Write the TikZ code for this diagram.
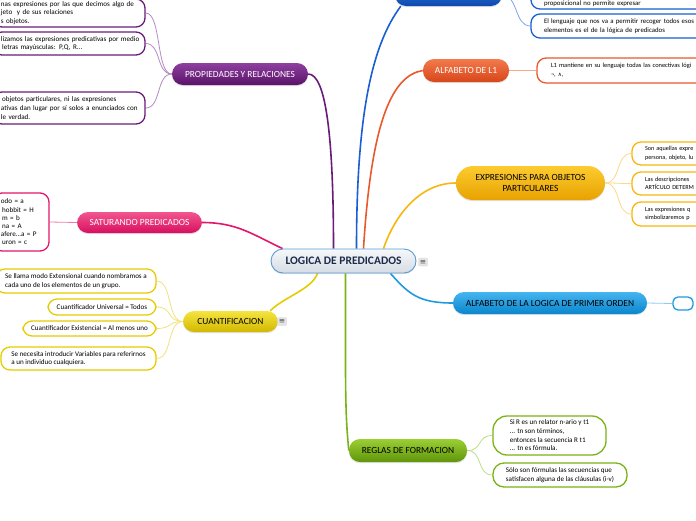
\documentclass[tikz,border=0pt]{standalone}
\usepackage{fontspec}
\setmainfont{Carlito}
\newfontfamily\symf{DejaVu Sans}
\usetikzlibrary{shadows,backgrounds}
\definecolor{cPur}{HTML}{6A1B7A}
\definecolor{cPurT}{HTML}{8E3FA0}
\definecolor{cPurB}{HTML}{5A1368}
\definecolor{cPurL}{HTML}{B58BC2}
\definecolor{cPnk}{HTML}{E4166C}
\definecolor{cPnkT}{HTML}{F2568F}
\definecolor{cPnkB}{HTML}{D80F60}
\definecolor{cPnkL}{HTML}{F07AA8}
\definecolor{cYel}{HTML}{E6CB00}
\definecolor{cYelT}{HTML}{F5E440}
\definecolor{cYelB}{HTML}{D2B800}
\definecolor{cYelL}{HTML}{F2E27A}
\definecolor{cBlu}{HTML}{1A5FD2}
\definecolor{cBluT}{HTML}{3478E0}
\definecolor{cBluB}{HTML}{0C49AE}
\definecolor{cBluL}{HTML}{7FA6E6}
\definecolor{cOrg}{HTML}{E9592B}
\definecolor{cOrgT}{HTML}{F27A4C}
\definecolor{cOrgB}{HTML}{D8461A}
\definecolor{cOrgL}{HTML}{F5A88A}
\definecolor{cGld}{HTML}{F6B80E}
\definecolor{cGldT}{HTML}{FCCB30}
\definecolor{cGldB}{HTML}{E8A200}
\definecolor{cGldL}{HTML}{FAD98A}
\definecolor{cSky}{HTML}{1E9BE0}
\definecolor{cSkyT}{HTML}{45B5F0}
\definecolor{cSkyB}{HTML}{0A85CC}
\definecolor{cSkyL}{HTML}{8CCCF2}
\definecolor{cGrn}{HTML}{7AB317}
\definecolor{cGrnT}{HTML}{9BCF34}
\definecolor{cGrnB}{HTML}{5F960A}
\definecolor{cGrnL}{HTML}{BEDD8A}
\definecolor{cCenT}{HTML}{F6F8FA}
\definecolor{cCenB}{HTML}{D5DCE4}
\definecolor{cCenD}{HTML}{5B9BD5}
\definecolor{cCenTx}{HTML}{1C2B4A}
\begin{document}
\begin{tikzpicture}[x=1pt,y=-1pt,
  br/.style={rounded corners=11pt, inner sep=1pt, align=center,
    font=\fontsize{9.4}{11}\selectfont,
    drop shadow={opacity=0.22, shadow xshift=0pt, shadow yshift=-1.2pt}},
  leaf/.style={fill=white, line width=1.3pt, rounded corners=9pt,
    font=\fontsize{7.1}{8.7}\selectfont, inner ysep=1pt, align=left},
  main/.style={line width=1.6pt},
  thin/.style={line width=0.8pt},
  icon/.style={fill=gray!20, draw=gray!35, line width=0.3pt, rounded corners=1pt,
    inner sep=1pt, minimum width=9pt, minimum height=8pt,
    font=\symf\fontsize{7.5}{7.5}\selectfont, text=gray!60!black}
]
\useasboundingbox (0,0) rectangle (696,520);

% central
\node[br, top color=cCenT, bottom color=cCenB, draw=cCenD, line width=0.9pt,
  rounded corners=12pt, minimum width=145pt, minimum height=24pt,
  text=cCenTx, font=\bfseries\fontsize{11.5}{13}\selectfont] (c) at (343.5,261) {LOGICA DE PREDICADOS};
\node[icon] (ic) at (423,262) {≡};

% branches
\node[br, top color=cPurT, bottom color=cPurB, text=white, minimum width=136pt, minimum height=22pt] (prop) at (240,74) {PROPIEDADES Y RELACIONES};
\node[br, top color=cPnkT, bottom color=cPnkB, text=white, minimum width=125pt, minimum height=21pt] (sat) at (139.5,222.5) {SATURANDO PREDICADOS};
\node[br, top color=cYelT, bottom color=cYelB, text=black, minimum width=95pt, minimum height=21pt] (cuant) at (230.5,321.5) {CUANTIFICACION};
\node[icon] (iq) at (282,321.5) {≡};
\node[br, top color=cBluT, bottom color=cBluB, text=white, minimum width=107pt, minimum height=22pt] (bt) at (448.5,-5) {};
\node[br, top color=cOrgT, bottom color=cOrgB, text=white, minimum width=86pt, minimum height=23pt] (alf) at (466,70.5) {ALFABETO DE L1};
\node[br, top color=cGldT, bottom color=cGldB, text=black, rounded corners=17pt, minimum width=149pt, minimum height=34pt] (expr) at (530.5,183) {EXPRESIONES PARA OBJETOS\\PARTICULARES};
\node[br, top color=cSkyT, bottom color=cSkyB, text=black, minimum width=194pt, minimum height=22pt] (alp) at (550,303) {ALFABETO DE LA LOGICA DE PRIMER ORDEN};
\node[br, top color=cGrnT, bottom color=cGrnB, text=black, minimum width=118pt, minimum height=23pt] (reg) at (408,450.5) {REGLAS DE FORMACION};

% purple leaves
\node[leaf, draw=cPur, inner xsep=8pt, text width=136pt, minimum height=28pt] (p1) at (69,13) {\mbox{nas expresiones por las que decimos algo de}\\\mbox{jeto \ y de sus relaciones}\\\mbox{s objetos.}};
\node[leaf, draw=cPur, inner xsep=8pt, text width=136pt, minimum height=23pt] (p2) at (69,43.5) {\mbox{lizamos las expresiones predicativas por medio}\\\mbox{\,letras mayúsculas: P,Q, R...}};
\node[leaf, draw=cPur, inner xsep=8pt, text width=136pt, minimum height=32pt] (p3) at (69,108) {\mbox{\,objetos particulares, ni las expresiones}\\\mbox{ativas dan lugar por sí solos a enunciados con}\\\mbox{le verdad.}};

% pink leaf
\node[leaf, draw=cPnk, inner xsep=8pt, text width=40pt, minimum height=58pt, font=\fontsize{7.1}{8.2}\selectfont] (s1) at (21,222) {\mbox{odo = a}\\\mbox{\,hobbit = H}\\\mbox{\,m = b}\\\mbox{\,na = A}\\\mbox{afere...a = P}\\\mbox{\,uron = c}};

% yellow leaves
\node[leaf, draw=cYel, minimum width=160pt, minimum height=24pt] (y1) at (76,281) {Se llama modo Extensional cuando nombramos a\\cada uno de los elementos de un grupo.};
\node[leaf, draw=cYel, minimum width=108pt, minimum height=16pt, align=center] (y2) at (102,307) {Cuantificador Universal = Todos};
\node[leaf, draw=cYel, minimum width=133pt, minimum height=15pt, align=center] (y3) at (89.5,328.5) {Cuantificador Existencial = Al menos uno};
\node[leaf, draw=cYel, minimum width=155pt, minimum height=23pt] (y4) at (78.5,358.5) {Se necesita introducir Variables para referirnos\\a un individuo cualquiera.};

% blue leaves
\node[leaf, draw=cBlu, inner xsep=13pt, text width=163pt, minimum height=26pt, font=\fontsize{6.8}{8.7}\selectfont] (b1) at (625.5,-4) {\rule{0pt}{20pt}proposicional no permite expresar};
\node[leaf, draw=cBlu, inner xsep=13pt, text width=163pt, minimum height=24pt, font=\fontsize{6.8}{8.9}\selectfont] (b2) at (625.5,26) {\mbox{El lenguaje que nos va a permitir recoger todos esos}\\\mbox{elementos es el de la lógica de predicados}};

% orange leaf
\node[leaf, draw=cOrg, inner xsep=14pt, text width=175pt, minimum height=25pt, font=\fontsize{6.4}{8.7}\selectfont] (o1) at (638.5,70.5) {\mbox{L1 mantiene en su lenguaje todas las conectivas lógi}\\¬, {\symf\fontsize{5.5}{8}\selectfont ∧},};

% gold leaves
\node[leaf, draw=cGld, inner xsep=13pt, text width=100pt, minimum height=23pt, font=\fontsize{6.2}{8.7}\selectfont] (e1) at (695,153.5) {Son aquellas expre\\persona, objeto, lu};
\node[leaf, draw=cGld, inner xsep=13pt, text width=100pt, minimum height=23pt, font=\fontsize{6.2}{8.7}\selectfont] (e2) at (695,183.5) {Las descripciones\\ARTÍCULO DETERM};
\node[leaf, draw=cGld, inner xsep=13pt, text width=100pt, minimum height=24pt, font=\fontsize{6.2}{8.7}\selectfont] (e3) at (695,214) {Las expresiones q\\simbolizaremos p};

% sky leaf
\node[leaf, draw=cSky, rounded corners=5pt, minimum width=20pt, minimum height=13pt, inner sep=0pt] (a1) at (683,303.5) {};

% green leaves
\node[leaf, draw=cGrn, rounded corners=14pt, minimum width=113pt, minimum height=39pt] (g1) at (549.5,435.5) {Si R es un relator n-ario y t1\\... tn son términos,\\entonces la secuencia R t1\\... tn es fórmula.};
\node[leaf, draw=cGrn, rounded corners=11pt, minimum width=134pt, minimum height=24pt] (g2) at (560,475) {Sólo son fórmulas las secuencias que\\satisfacen alguna de las cláusulas (i-v)};

\begin{scope}[on background layer]
\fill[white] (0,0) rectangle (696,520);
% main connectors
\draw[main, cPur] (prop.east) .. controls +(18,0) and +(0,-110) .. ([xshift=-10pt]c.north);
\draw[main, cPnk] (sat.east) .. controls +(35,0) and +(-30,-14) .. ([xshift=12pt]c.north west);
\draw[main, cYel] ([xshift=47pt]c.south west) .. controls +(-6,16) and +(14,-14) .. ([xshift=-8pt]cuant.north east);
\draw[main, cBlu] ([xshift=6pt]bt.south west) .. controls +(-30,40) and +(0,-130) .. ([xshift=13pt]c.north);
\draw[main, cOrg] (alf.west) .. controls +(-30,5) and +(8,-130) .. ([xshift=20pt]c.north);
\draw[main, cGld] (expr.west) .. controls +(-35,0) and +(12,-35) .. ([xshift=40pt]c.north);
\draw[main, cSky] ([xshift=-26pt]c.south east) .. controls +(18,20) and +(-35,0) .. (alp.west);
\draw[main, cGrn] ([xshift=2pt]c.south) .. controls +(0,110) and +(-4,-40) .. (reg.west);
% leaf connectors
\foreach \t in {p1,p2,p3}
  \draw[thin, cPurL] (prop.west) .. controls +(-16,0) and +(16,0) .. (\t.east);
\draw[thin, cPnkL] (sat.west) -- (s1.east);
\foreach \t in {y1,y2,y3,y4}
  \draw[thin, cYelL] (cuant.west) .. controls +(-16,0) and +(16,0) .. (\t.east);
\foreach \t in {b1,b2}
  \draw[thin, cBluL] (bt.east) .. controls +(16,0) and +(-16,0) .. (\t.west);
\draw[thin, cOrgL] (alf.east) -- (o1.west);
\foreach \t in {e1,e2,e3}
  \draw[thin, cGldL] (expr.east) .. controls +(16,0) and +(-16,0) .. (\t.west);
\draw[thin, cSkyL] (alp.east) -- (a1.west);
\foreach \t in {g1,g2}
  \draw[thin, cGrnL] (reg.east) .. controls +(16,0) and +(-16,0) .. (\t.west);
\end{scope}
\end{tikzpicture}
\end{document}
